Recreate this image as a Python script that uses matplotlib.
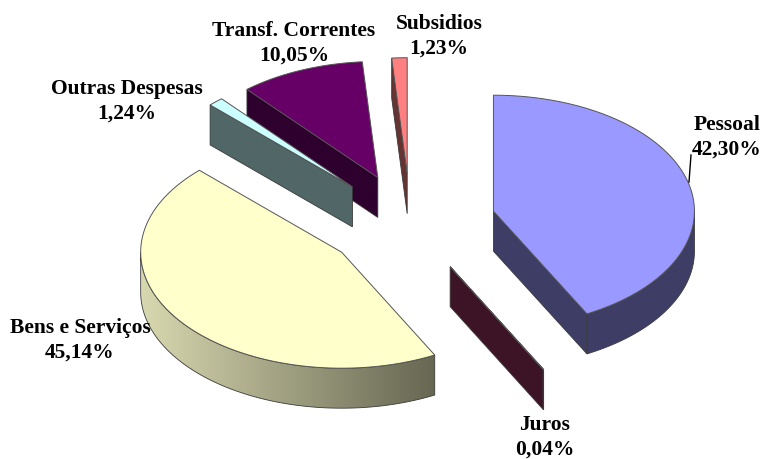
"""Exploded 3D pie of expense shares, drawn by hand as projected wedges."""

import matplotlib

matplotlib.use("Agg")
import matplotlib.pyplot as plt
import numpy as np
from matplotlib.colors import LinearSegmentedColormap
from matplotlib.patches import Polygon

CATEGORIES = ["Pessoal", "Juros", "Bens e Serviços", "Outras Despesas", "Transf. Correntes", "Subsidios"]
SHARES = [42.30, 0.04, 45.14, 1.24, 10.05, 1.23]

TOP_COLORS = ["#9999ff", "#660033", "#ffffcc", "#ccffff", "#660066", "#ff8080"]
SIDE_COLORS = ["#3d3d66", "#3d1426", "#666652", "#516666", "#2e002e", "#663333"]
LABEL_XY = [(727, 137), (545, 437), (80, 340), (127, 101), (294, 43), (439, 36)]

# pie geometry in image pixels
CX, CY = 410.5, 224
RX, RY = 201, 116
DEPTH = 40
EXPLODE = 0.425
EDGE = "#3a3a3a"

# back to front
DRAW_ORDER = [5, 4, 3, 2, 1, 0]


def arc(t0, t1, ox, oy, n=80):
    t = np.radians(np.linspace(t0, t1, n))
    return np.column_stack([ox + RX * np.sin(t), oy - RY * np.cos(t)])


fig = plt.figure(figsize=(7.63, 4.6), dpi=100)
ax = fig.add_axes([0, 0, 1, 1])

edges = np.concatenate([[0], np.cumsum(SHARES)]) / sum(SHARES) * 360

for i in DRAW_ORDER:
    t0, t1 = edges[i], edges[i + 1]
    mid = np.radians((t0 + t1) / 2)
    ox = CX + EXPLODE * RX * np.sin(mid)
    oy = CY - EXPLODE * RY * np.cos(mid)
    apex = np.array([ox, oy])
    down = np.array([0, DEPTH])

    # straight cut faces that look towards the viewer
    cuts = []
    if 180 < t0 < 360:
        cuts.append(t0)
    if 0 < t1 < 180:
        cuts.append(t1)
    for t in cuts:
        outer = arc(t, t, ox, oy, 1)[0]
        ax.add_patch(Polygon([apex, outer, outer + down, apex + down], closed=True,
                             facecolor=SIDE_COLORS[i], edgecolor=EDGE, linewidth=0.6))

    # outer rim, front half of the ellipse only
    r0, r1 = max(t0, 90), min(t1, 270)
    if r1 > r0:
        pts = arc(r0, r1, ox, oy, 120)
        rim = np.vstack([pts, pts[::-1] + down])
        if CATEGORIES[i] == "Bens e Serviços":
            cmap = LinearSegmentedColormap.from_list("rim", ["#d8d8b0", SIDE_COLORS[i]])
            im = ax.imshow(np.linspace(0, 1, 256)[None, :], cmap=cmap, aspect="auto",
                           extent=(rim[:, 0].min(), rim[:, 0].max(), rim[:, 1].max(), rim[:, 1].min()))
            im.set_clip_path(Polygon(rim, closed=True, transform=ax.transData))
        else:
            ax.add_patch(Polygon(rim, closed=True, facecolor=SIDE_COLORS[i], edgecolor="none"))
        ax.add_patch(Polygon(rim, closed=True, fill=False, edgecolor=EDGE, linewidth=0.6))

    # top face
    top = np.vstack([apex, arc(t0, t1, ox, oy)])
    ax.add_patch(Polygon(top, closed=True, facecolor=TOP_COLORS[i], edgecolor="#555555", linewidth=0.7))

# leader line on the first label
ax.plot([689, 691], [183, 156], color="black", linewidth=1.0)

for name, share, (x, y) in zip(CATEGORIES, SHARES, LABEL_XY):
    pct = f"{share:.2f}%".replace(".", ",")
    ax.text(x, y, f"{name}\n{pct}", ha="center", va="center", family="Liberation Serif",
            fontweight="bold", fontsize=15.5, linespacing=1.3, color="black")

ax.set_xlim(0, 763)
ax.set_ylim(460, 0)
ax.axis("off")

fig.savefig("out.png", dpi=100, facecolor="white")
